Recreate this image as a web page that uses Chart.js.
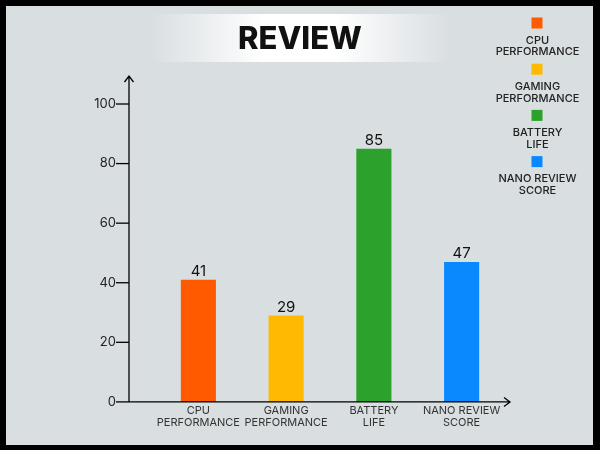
<!DOCTYPE html>
<html>
<head>
<meta charset="utf-8">
<script src="https://cdn.jsdelivr.net/npm/chart.js@4.4.1/dist/chart.umd.min.js"></script>
<style>
  html, body { margin: 0; padding: 0; background: #000; }
</style>
</head>
<body>
<canvas id="reviewChart" width="600" height="450"></canvas>
<script>
const categories = [['CPU', 'PERFORMANCE'], ['GAMING', 'PERFORMANCE'], ['BATTERY', 'LIFE'], ['NANO REVIEW', 'SCORE']]
const scores = [41, 29, 85, 47]
const yTicks = [0, 20, 40, 60, 80, 100]
const barColors = ['#ff5a00', '#ffb900', '#2ca12c', '#0a89ff']
const chartTitle = 'REVIEW'

const FONT = 'Inter, "Noto Sans", sans-serif'
const BG = '#d9dee1'

// frame, grey panel and the white title banner
const backdrop = {
  id: 'backdrop',
  beforeDraw (chart) {
    const { ctx } = chart
    ctx.save()
    ctx.fillStyle = '#000'
    ctx.fillRect(0, 0, 600, 450)
    ctx.fillStyle = BG
    ctx.fillRect(6, 6, 587, 439)

    const grad = ctx.createLinearGradient(150, 0, 450, 0)
    grad.addColorStop(0, BG)
    grad.addColorStop(0.38, '#ffffff')
    grad.addColorStop(0.62, '#ffffff')
    grad.addColorStop(1, BG)
    ctx.fillStyle = grad
    ctx.fillRect(150, 14, 300, 48)

    ctx.font = '800 31px ' + FONT
    ctx.fillStyle = '#111'
    ctx.textAlign = 'center'
    ctx.textBaseline = 'middle'
    ctx.fillText(chartTitle, 300, 40)
    ctx.restore()
  }
}

// axis lines with arrows, y ticks, value labels
const axesAndLabels = {
  id: 'axesAndLabels',
  afterDatasetsDraw (chart) {
    const { ctx, chartArea, scales: { y } } = chart
    const x0 = chartArea.left - 25.5
    const y0 = y.getPixelForValue(0)
    ctx.save()
    ctx.strokeStyle = '#000'
    ctx.lineWidth = 1.3

    // y axis
    ctx.beginPath()
    ctx.moveTo(x0, y0)
    ctx.lineTo(x0, 76)
    ctx.moveTo(x0 - 4.5, 82)
    ctx.lineTo(x0, 76)
    ctx.lineTo(x0 + 4.5, 82)
    // x axis
    ctx.moveTo(x0, y0)
    ctx.lineTo(510, y0)
    ctx.moveTo(504, y0 - 4.5)
    ctx.lineTo(510, y0)
    ctx.lineTo(504, y0 + 4.5)
    ctx.stroke()

    ctx.font = '13px ' + FONT
    ctx.fillStyle = '#222'
    ctx.textAlign = 'right'
    ctx.textBaseline = 'middle'
    yTicks.forEach(v => {
      const py = y.getPixelForValue(v)
      ctx.beginPath()
      ctx.moveTo(x0 - 13, py)
      ctx.lineTo(x0, py)
      ctx.stroke()
      ctx.fillText(String(v), x0 - 13, py)
    })

    // numbers on top of bars
    ctx.font = '15px ' + FONT
    ctx.fillStyle = '#111'
    ctx.textAlign = 'center'
    ctx.textBaseline = 'bottom'
    chart.getDatasetMeta(0).data.forEach((bar, i) => {
      ctx.fillText(String(scores[i]), bar.x, bar.y - 1)
    })
    ctx.restore()
  }
}

// legend on the right: box above a two line label
const sideLegend = {
  id: 'sideLegend',
  afterDraw (chart) {
    const { ctx } = chart
    ctx.save()
    ctx.font = '500 11px ' + FONT
    ctx.textAlign = 'center'
    ctx.textBaseline = 'middle'
    categories.forEach((lines, i) => {
      const top = 17.5 + i * 46.2
      ctx.fillStyle = barColors[i]
      ctx.fillRect(531.5, top, 11, 11)
      ctx.fillStyle = '#222'
      lines.forEach((t, j) => ctx.fillText(t, 537.5, top + 22.7 + j * 11.8))
    })
    ctx.restore()
  }
}

const ctx = document.getElementById('reviewChart').getContext('2d')

new Chart(ctx, {
  type: 'bar',
  plugins: [backdrop, axesAndLabels, sideLegend],
  data: {
    labels: categories,
    datasets: [
      {
        data: scores,
        backgroundColor: barColors,
        borderWidth: 0,
        barPercentage: 0.4,
        categoryPercentage: 1
      }
    ]
  },
  options: {
    responsive: false,
    animation: false,
    layout: {
      padding: { left: 154.5, right: 94.5, top: 104, bottom: 19 }
    },
    plugins: {
      legend: { display: false },
      tooltip: { enabled: false }
    },
    scales: {
      x: {
        grid: { display: false, drawTicks: false },
        border: { display: false },
        ticks: {
          color: '#333',
          font: { family: FONT, size: 11, lineHeight: 1.05 },
          padding: 3,
          maxRotation: 0,
          autoSkip: false
        }
      },
      y: {
        display: false,
        min: 0,
        max: 100
      }
    }
  }
})
</script>
</body>
</html>
